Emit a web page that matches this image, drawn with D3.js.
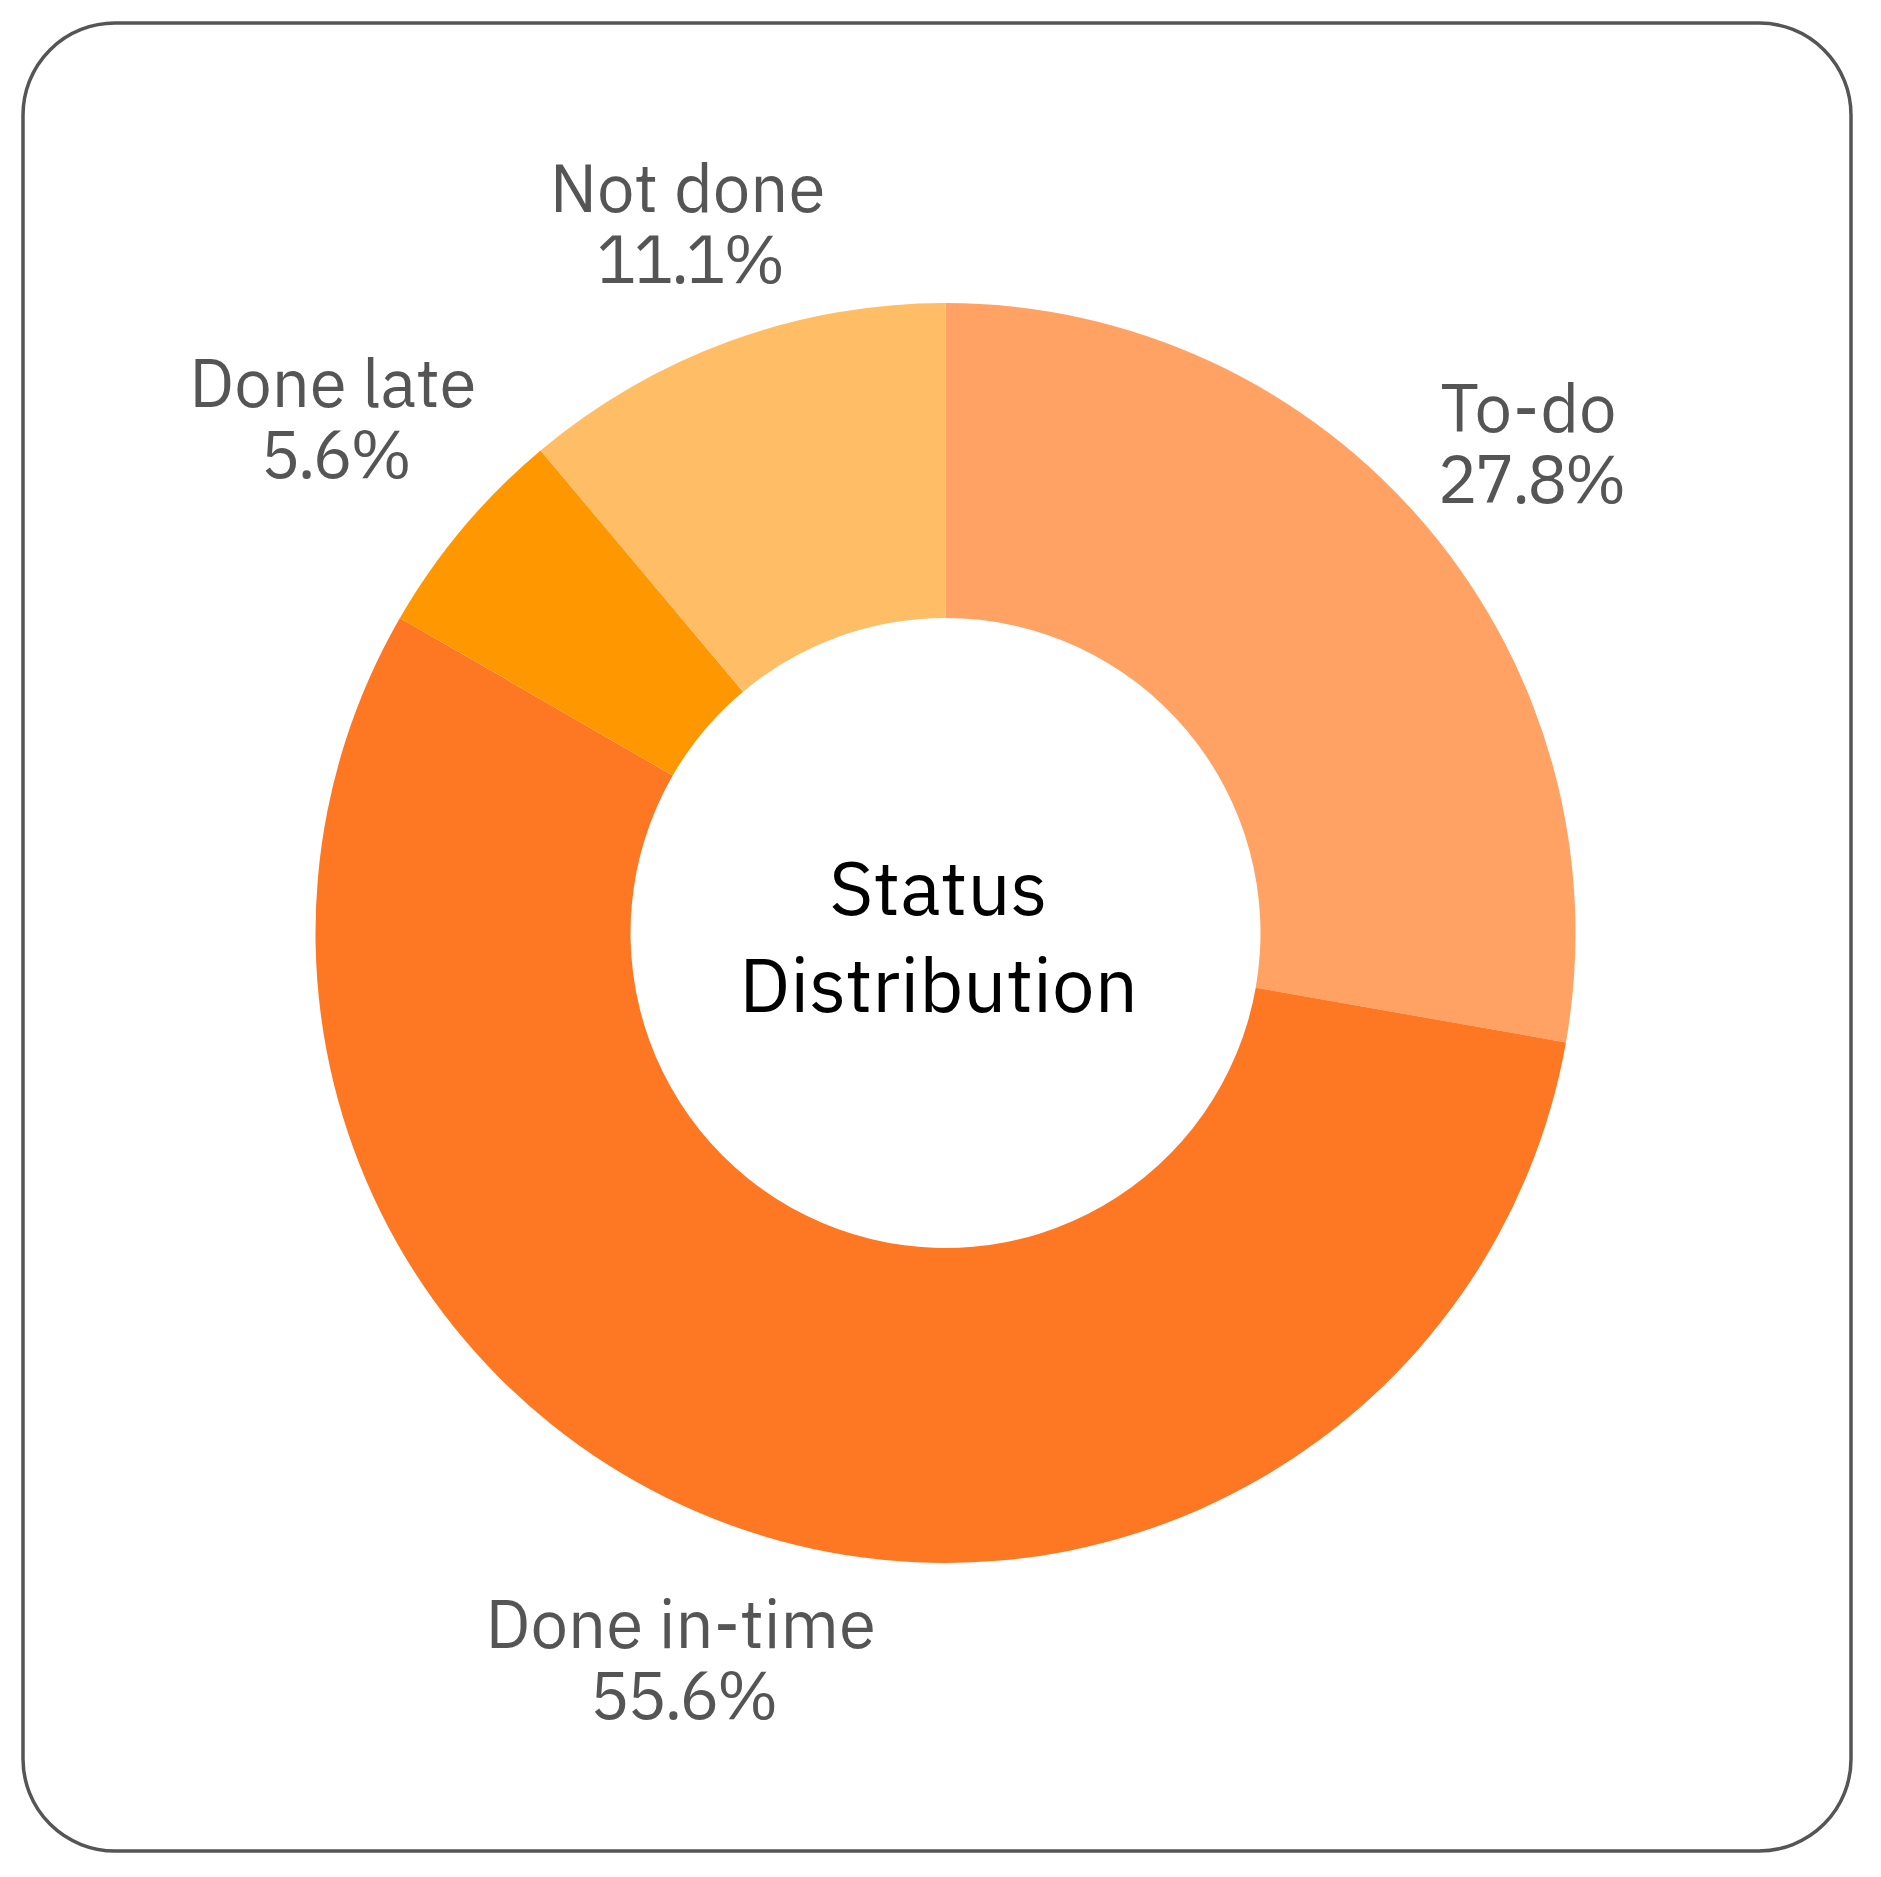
<!DOCTYPE html>
<html>
<head>
<meta charset="utf-8">
<script src="https://cdn.jsdelivr.net/npm/d3@7"></script>
<style>
  body { margin: 0; background: #fff; }
  text { font-family: "IBM Plex Sans", "Noto Sans", sans-serif; }
</style>
</head>
<body>
<div class="donut_chart"></div>
<script>
const categories = ["To-do", "Done in-time", "Done late", "Not done"];
const counts = [5, 10, 1, 2];
const sliceColors = ["#FFA264", "#FE7722", "#FF9800", "#FFBD66"];
const centerTitle = ["Status", "Distribution"];

const width = 1881;
const height = 1877;
const cx = 945.5, cy = 933;
const outerR = 630;
const innerR = 315;
const labelGap = 652;      // distance from centre to nearest edge of a label block
const labelSize = 67;
const lineGap = 71;
const capH = labelSize * 0.7;

const total = d3.sum(counts);
const data = categories.map((c, i) => ({ name: c, value: counts[i] }));

const color = d3.scaleOrdinal()
    .domain(categories)
    .range(sliceColors);

const pct = d3.format(".1%");

const svg = d3.select('.donut_chart')
    .append('svg')
    .attr('width', width)
    .attr('height', height);

// frame
svg.append('rect')
    .attr('x', 23)
    .attr('y', 23)
    .attr('width', 1828)
    .attr('height', 1828)
    .attr('rx', 92)
    .attr('fill', '#fff')
    .attr('stroke', '#555')
    .attr('stroke-width', 3.5);

const pie = d3.pie()
    .sort(null)
    .value(d => d.value);

const arc = d3.arc()
    .innerRadius(innerR)
    .outerRadius(outerR);

const g = svg.append('g')
    .attr('transform', `translate(${cx}, ${cy})`);

g.selectAll('path')
    .data(pie(data))
    .enter()
    .append('path')
    .attr('d', arc)
    .attr('fill', d => color(d.data.name));

// outside labels: name + percent
const labels = g.selectAll('.label')
    .data(pie(data))
    .enter()
    .append('text')
    .attr('class', 'label')
    .attr('text-anchor', 'middle')
    .attr('fill', '#555')
    .style('font-size', labelSize + 'px');

labels.append('tspan')
    .attr('x', 0)
    .attr('y', -(lineGap - capH) / 2)
    .text(d => d.data.name);

labels.append('tspan')
    .attr('x', 2)
    .attr('y', lineGap - (lineGap - capH) / 2)
    .style('letter-spacing', '-3px')
    .text(d => pct(d.data.value / total));

// push each label block out until its edge clears the ring
labels.attr('transform', function(d) {
    const w = d3.max(d3.select(this).selectAll('tspan').nodes(), n => n.getComputedTextLength());
    const h = lineGap + capH;
    const a = (d.startAngle + d.endAngle) / 2;
    const ext = Math.abs(Math.sin(a)) * w / 2 + Math.abs(Math.cos(a)) * h / 2;
    const r = labelGap + ext;
    return `translate(${Math.sin(a) * r}, ${-Math.cos(a) * r})`;
});

// center title
g.append('text')
    .attr('text-anchor', 'middle')
    .attr('fill', '#000')
    .style('font-size', '76px')
    .selectAll('tspan')
    .data(centerTitle)
    .enter()
    .append('tspan')
    .attr('x', -7)
    .attr('y', (d, i) => -18 + i * 97)
    .text(d => d);
</script>
</body>
</html>
